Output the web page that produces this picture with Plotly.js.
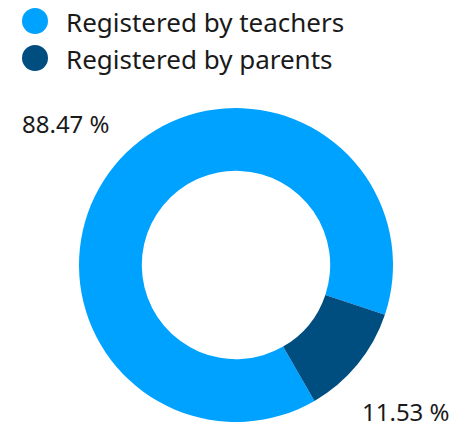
<!DOCTYPE html>
<html>
<head>
<meta charset="utf-8">
<script src="https://cdn.plot.ly/plotly-3.0.1.min.js"></script>
<style>html,body{margin:0;padding:0;background:#fff;}#chart{width:459px;height:427px;}</style>
</head>
<body>
<div id="chart"></div>
<script>
const categories = ["Registered by teachers", "Registered by parents"];
const values = [88.47, 11.53];
const colors = ["#00A2FF", "#004D80"];
const valueLabels = values.map(v => v.toFixed(2) + " %");

const W = 459, H = 427;
const FONT = "Noto Sans, sans-serif";
const TEXT_COLOR = "#1a1a1a";

// manual legend (circle markers)
const legendX = 35, legendY0 = 21, legendDy = 37, legendR = 13, legendTextX = 64;
const shapes = categories.map((c, i) => ({
  type: "circle", xref: "paper", yref: "paper",
  xsizemode: "pixel", ysizemode: "pixel",
  xanchor: legendX / W, yanchor: 1 - (legendY0 + i * legendDy) / H,
  x0: -legendR, x1: legendR, y0: -legendR, y1: legendR,
  fillcolor: colors[i], line: {width: 0}
}));
const legendAnn = categories.map((c, i) => ({
  text: c, xref: "paper", yref: "paper",
  x: legendTextX / W, y: 1 - (legendY0 + 1 + i * legendDy) / H,
  xanchor: "left", yanchor: "middle", showarrow: false,
  font: {family: FONT, size: 26, color: TEXT_COLOR}
}));
// value labels placed outside the ring
const labelPos = [[66, 123], [406, 411]];
const valueAnn = valueLabels.map((t, i) => ({
  text: t, xref: "paper", yref: "paper",
  x: labelPos[i][0] / W, y: 1 - labelPos[i][1] / H,
  xanchor: "center", yanchor: "middle", showarrow: false,
  font: {family: FONT, size: 24, color: TEXT_COLOR}
}));

const trace = {
  type: "pie",
  labels: categories,
  values: values,
  textinfo: "none",
  hole: 0.6,
  sort: false,
  direction: "clockwise",
  rotation: 150,
  marker: {colors: colors, line: {width: 0}},
  showlegend: false,
  domain: {x: [79 / W, 393 / W], y: [5 / H, 319 / H]},
  automargin: false
};

Plotly.newPlot("chart", [trace], {
  width: W, height: H,
  margin: {l: 0, r: 0, t: 0, b: 0},
  paper_bgcolor: "#ffffff",
  showlegend: false,
  font: {family: FONT, color: TEXT_COLOR},
  shapes: shapes,
  annotations: legendAnn.concat(valueAnn)
}, {displayModeBar: false, staticPlot: true});
</script>
</body>
</html>
